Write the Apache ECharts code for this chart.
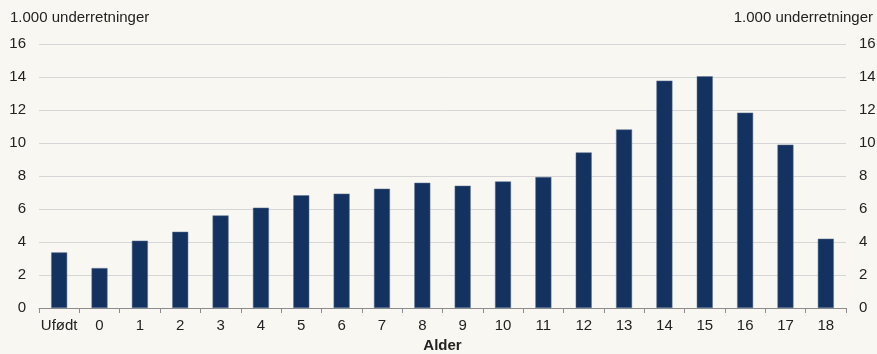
<!DOCTYPE html>
<html>
<head>
<meta charset="utf-8">
<script src="https://cdn.jsdelivr.net/npm/echarts@6/dist/echarts.min.js"></script>
<style>
html,body{margin:0;padding:0;background:#f8f7f1;}
#chart{width:877px;height:354px;}
</style>
</head>
<body>
<div id="chart"></div>
<script>
const categories = ['Ufødt','0','1','2','3','4','5','6','7','8','9','10','11','12','13','14','15','16','17','18'];
const values = [3.37,2.42,4.08,4.62,5.61,6.08,6.83,6.93,7.23,7.59,7.41,7.67,7.94,9.43,10.82,13.78,14.04,11.84,9.9,4.2];
const yTicks = {min:0, max:16, interval:2};
const unitLabel = '1.000 underretninger';
const xName = 'Alder';

const font = 'Liberation Sans, Arial, sans-serif';
const chart = echarts.init(document.getElementById('chart'));
const yAxisBase = {
  type:'value', min:yTicks.min, max:yTicks.max, interval:yTicks.interval,
  axisLine:{show:false}, axisTick:{show:false},
  axisLabel:{color:'#222', fontSize:15, fontFamily:font, margin:13},
  splitLine:{lineStyle:{color:'#d6d6d6', width:1}}
};
chart.setOption({
  backgroundColor:'#f8f7f1',
  animation:false,
  grid:{left:39, right:31, top:44, bottom:46, outerBoundsMode:'none', containLabel:false},
  graphic:[
    {type:'text', left:10, top:10, style:{text:unitLabel, font:'15px '+font, fill:'#222'}},
    {type:'text', right:4, top:10, style:{text:unitLabel, font:'15px '+font, fill:'#222'}}
  ],
  xAxis:{
    type:'category', data:categories,
    name:xName, nameLocation:'middle', nameGap:30,
    nameTextStyle:{fontWeight:'bold', fontSize:15, color:'#222', fontFamily:font},
    axisLine:{lineStyle:{color:'#8c8c8c'}},
    axisTick:{show:true, length:5, lineStyle:{color:'#8c8c8c'}},
    axisLabel:{color:'#222', fontSize:15, fontFamily:font, margin:10, interval:0}
  },
  yAxis:[
    Object.assign({}, yAxisBase, {position:'left'}),
    Object.assign({}, yAxisBase, {position:'right', splitLine:{show:false}})
  ],
  series:[{
    type:'bar', data:values, barWidth:16,
    itemStyle:{color:'#14325f', borderColor:'#5d7295', borderWidth:0.5}
  }]
});
</script>
</body>
</html>
